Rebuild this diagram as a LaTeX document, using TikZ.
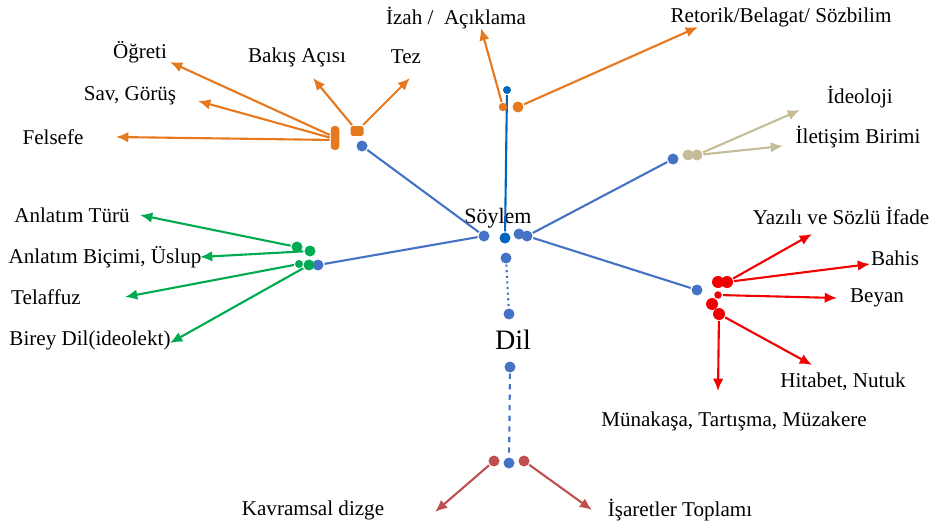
\documentclass[tikz,border=0pt]{standalone}
\usepackage{xcolor}
\usepackage{tikz}
\usepackage{fontspec}
\setmainfont{Liberation Serif}
\newfontfamily\lblfont{Liberation Serif}
\usetikzlibrary{
    arrows.meta
}

\definecolor{sblue}{RGB}{68,114,196}
\definecolor{dblue}{RGB}{0,102,190}
\definecolor{sorange}{RGB}{230,120,30}
\definecolor{sgreen}{RGB}{0,170,80}
\definecolor{sred}{RGB}{240,0,0}
\definecolor{sbeige}{RGB}{196,189,151}
\definecolor{dred}{RGB}{192,80,77}

\begin{document}
\begin{tikzpicture}[x=0.02cm,y=-0.02cm,line width=1.2pt,>={Latex[length=7pt,width=6pt]},
    every node/.style={font=\lblfont\fontsize{12}{14}\selectfont}]
    \tikzstyle{dot}=[shape=circle, inner sep=0pt, minimum size=0.22cm]
    \tikzstyle{lbl}=[inner sep=0pt, anchor=center]
    \useasboundingbox (0,0) rectangle (932,527);

	% blue centre
	\node [dot, fill=sblue] (b1) at (484,236) {};
	\node [dot, fill=dblue] (b2) at (505,238) {};
	\node [dot, fill=sblue] (b3) at (519,234) {};
	\node [dot, fill=sblue] (b4) at (527,236) {};
	\node [dot, fill=sblue] (b5) at (506,258) {};
	\node [dot, fill=sblue] (b6) at (509,314) {};
	\node [dot, fill=sblue] (b7) at (510,367) {};
	\node [dot, fill=sblue] (b8) at (509,463) {};
	\node [dot, fill=dblue, minimum size=0.16cm] (btop) at (507,90) {};
	\node [dot, fill=sblue] (bul) at (362,146) {};
	\node [dot, fill=sblue] (bur) at (673,159) {};
	\node [dot, fill=sblue] (bl) at (318,265) {};
	\node [dot, fill=sblue] (blr) at (697,290) {};

	\node [lbl, font=\lblfont\fontsize{12.5}{14}\selectfont] (soylem) at (498,218) {Söylem};
	\node [lbl, font=\lblfont\fontsize{16}{18}\selectfont] (dil) at (513,340) {Dil};

	\draw [sblue] (b1) -- (bul);
	\draw [sblue] (b1) -- (bl);
	\draw [sblue] (b4) -- (bur);
	\draw [sblue] (b4) -- (blr);
	\draw [dblue] (b2) -- (btop);
	\draw [sblue, dotted] (b5) -- (b6);
	\draw [sblue, dashed] (b7) -- (b8);

	% orange
	\node [dot, fill=sorange, minimum size=0.17cm] (o1) at (503,107) {};
	\node [dot, fill=sorange] (o2) at (518,107) {};
	\node [fill=sorange, inner sep=0pt, minimum width=0.26cm, minimum height=0.2cm, rounded corners=1pt] (ot) at (357,131) {};
	\node [fill=sorange, inner sep=0pt, minimum width=0.17cm, minimum height=0.48cm, rounded corners=2pt] (ol) at (335,138) {};

	\coordinate (aizah) at (481,28);
	\coordinate (aretorik) at (698,27);
	\coordinate (abakis) at (313,78);
	\coordinate (atez) at (410,78);
	\coordinate (aogreti) at (170,62);
	\coordinate (asav) at (198,101);
	\coordinate (afelsefe) at (116,137);

	\draw [->, sorange] (o1) -- (aizah);
	\draw [->, sorange] (o2) -- (aretorik);
	\draw [->, sorange] (ot) -- (abakis);
	\draw [->, sorange] (ot) -- (atez);
	\draw [->, sorange] (ol.150) -- (aogreti);
	\draw [->, sorange] (ol.175) -- (asav);
	\draw [->, sorange] (ol.200) -- (afelsefe);

	\node [lbl] (izah) at (456,18) {İzah /\ \ Açıklama};
	\node [lbl] (retorik) at (781,17) {Retorik/Belagat/ Sözbilim};
	\node [lbl] (bakis) at (297,57) {Bakış Açısı};
	\node [lbl] (tez) at (406,57) {Tez};
	\node [lbl] (ogreti) at (140,52) {Öğreti};
	\node [lbl] (sav) at (130,96) {Sav, Görüş};
	\node [lbl] (felsefe) at (53,137) {Felsefe};

	% beige
	\node [dot, fill=sbeige] (y1) at (688,155) {};
	\node [dot, fill=sbeige] (y2) at (697,155) {};
	\coordinate (aideoloji) at (800,110);
	\coordinate (ailetisim) at (783,146);
	\draw [->, sbeige] (y2) -- (aideoloji);
	\draw [->, sbeige] (y2) -- (ailetisim);
	\node [lbl] (ideoloji) at (860,97) {İdeoloji};
	\node [lbl] (iletisim) at (858,137) {İletişim Birimi};

	% green
	\node [dot, fill=sgreen] (g1) at (297,247) {};
	\node [dot, fill=sgreen] (g2) at (310,251) {};
	\node [dot, fill=sgreen, minimum size=0.16cm] (g3) at (299,264) {};
	\node [dot, fill=sgreen] (g4) at (309,265) {};
	\coordinate (aturu) at (140,215);
	\coordinate (abicimi) at (200,257);
	\coordinate (atelaffuz) at (125,297);
	\coordinate (abirey) at (170,343);
	\draw [->, sgreen] (g1) -- (aturu);
	\draw [->, sgreen] (g2) -- (abicimi);
	\draw [->, sgreen] (g3) -- (atelaffuz);
	\draw [->, sgreen] (g4) -- (abirey);
	\node [lbl] (turu) at (72,215) {Anlatım Türü};
	\node [lbl] (bicimi) at (105,257) {Anlatım Biçimi, Üslup};
	\node [lbl] (telaffuz) at (46,297) {Telaffuz};
	\node [lbl] (birey) at (90,340) {Birey Dil(ideolekt)};

	% red
	\node [dot, fill=sred, minimum size=0.24cm] (r1) at (718,282) {};
	\node [dot, fill=sred, minimum size=0.24cm] (r2) at (727,282) {};
	\node [dot, fill=sred, minimum size=0.15cm] (r3) at (718,295) {};
	\node [dot, fill=sred, minimum size=0.24cm] (r4) at (712,304) {};
	\node [dot, fill=sred, minimum size=0.24cm] (r5) at (719,314) {};
	\coordinate (ayazili) at (812,234);
	\coordinate (abahis) at (870,264);
	\coordinate (abeyan) at (837,298);
	\coordinate (ahitabet) at (812,365);
	\coordinate (amunakasa) at (718,391);
	\draw [->, sred] (r2) -- (ayazili);
	\draw [->, sred] (r2) -- (abahis);
	\draw [->, sred] (r3) -- (abeyan);
	\draw [->, sred] (r5) -- (ahitabet);
	\draw [->, sred] (r5) -- (amunakasa);
	\node [lbl] (yazili) at (841,216) {Yazılı ve Sözlü İfade};
	\node [lbl] (bahis) at (895,258) {Bahis};
	\node [lbl] (beyan) at (877,298) {Beyan};
	\node [lbl] (hitabet) at (843,382) {Hitabet, Nutuk};
	\node [lbl] (munakasa) at (734,421) {Münakaşa, Tartışma, Müzakere};

	% dark red
	\node [dot, fill=dred] (d1) at (494,461) {};
	\node [dot, fill=dred] (d2) at (524,461) {};
	\coordinate (akavram) at (435,512);
	\coordinate (aisaret) at (592,510);
	\draw [->, dred] (d1) -- (akavram);
	\draw [->, dred] (d2) -- (aisaret);
	\node [lbl] (kavram) at (313,510) {Kavramsal dizge};
	\node [lbl] (isaret) at (680,510) {İşaretler Toplamı};
\end{tikzpicture}
\end{document}
